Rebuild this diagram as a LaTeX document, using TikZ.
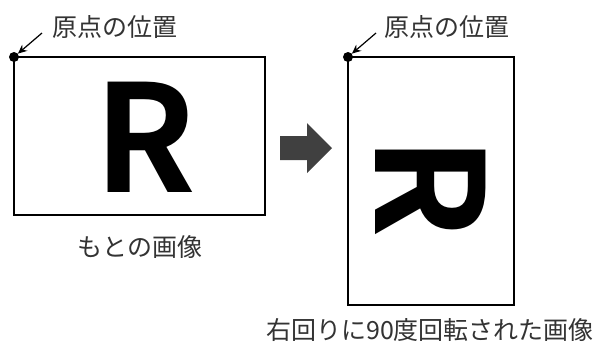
\documentclass[tikz,border=0pt]{standalone}
\usepackage{fontspec}
\setmainfont{Noto Sans CJK JP}
\newfontfamily\rfont{Noto Sans CJK JP}[BoldFont={* Bold}]
\usetikzlibrary{arrows.meta}
\definecolor{txt}{HTML}{333333}
\definecolor{blk}{HTML}{404040}
\begin{document}
\begin{tikzpicture}[x=1pt,y=-1pt,
  frame/.style={draw=black,line width=2.4pt},
  lbl/.style={text=txt,font=\fontsize{25}{28}\selectfont,inner sep=0pt},
  bigr/.style={font=\rfont\bfseries\fontsize{149}{150}\selectfont,inner sep=0pt},
  origin/.style={circle,fill=black,minimum size=10pt,inner sep=0pt},
  ptr/.style={draw=black,line width=1.2pt,-{Stealth[length=9pt,width=8pt]}}]
\useasboundingbox (0,0) rectangle (603,346);
% left image
\draw[frame] (14,57) rectangle (265,215);
\node[origin] (o1) at (14,57) {};
\node[lbl] (l1) at (115,27) {原点の位置};
\coordinate (s1) at (42,33);
\draw[ptr] (s1) -- (o1);
\node[bigr] (r1) at (145,137) {R};
\node[lbl] (c1) at (140,247) {もとの画像};
% block arrow
\fill[blk] (280,136) -- (307,136) -- (307,123) -- (332,148) -- (307,173) -- (307,160) -- (280,160) -- cycle;
% right image
\draw[frame] (348,57) rectangle (514,305);
\node[origin] (o2) at (348,57) {};
\node[lbl] (l2) at (447,27) {原点の位置};
\coordinate (s2) at (376,33);
\draw[ptr] (s2) -- (o2);
\node[bigr,rotate=-90] (r2) at (431,187) {R};
\node[lbl] (c2) at (430,330) {右回りに90度回転された画像};
\end{tikzpicture}
\end{document}
